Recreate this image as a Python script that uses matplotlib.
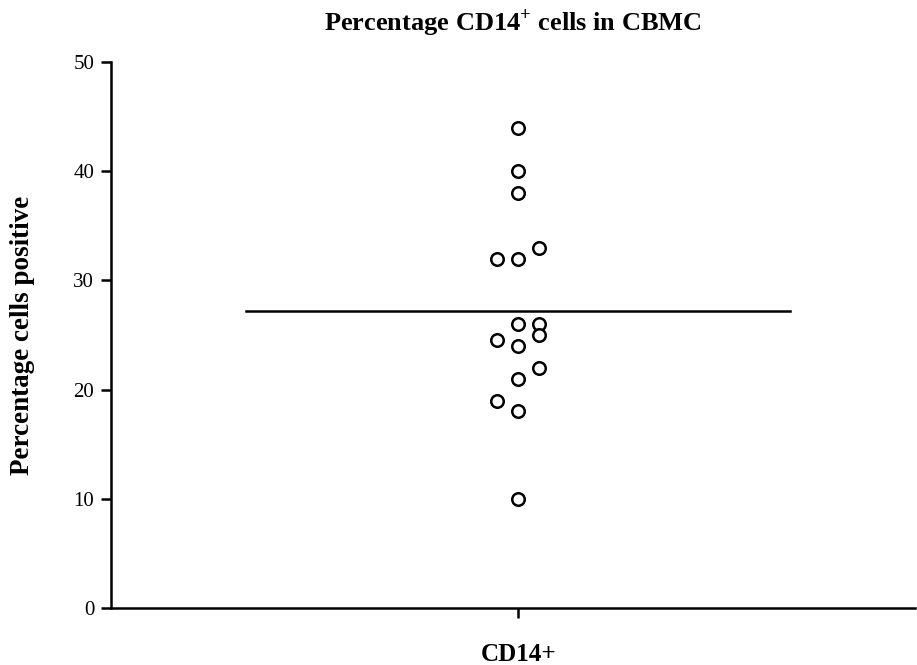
import matplotlib
matplotlib.use("Agg")
import numpy as np
import matplotlib.pyplot as plt

# -------------------------------------------------
# Data
# -------------------------------------------------
group = "CD14+"
values = [44, 40, 38, 33, 32, 32, 26, 26, 25, 24.5, 24, 22, 21, 19, 18, 10]
# scatter column for each point (-1 left, 0 centre, 1 right)
column = [0, 0, 0, 1, -1, 0, 0, 1, 1, -1, 0, 1, 0, -1, 0, 0]
y_ticks = [0, 10, 20, 30, 40, 50]

plt.rcParams["font.family"] = ["Liberation Serif", "DejaVu Serif"]
plt.rcParams["mathtext.fontset"] = "custom"
plt.rcParams["mathtext.rm"] = "Liberation Serif"
plt.rcParams["mathtext.bf"] = "Liberation Serif:bold"

fig = plt.figure(figsize=(9.17, 6.65), dpi=100)
ax = fig.add_axes([0.121, 0.0857, 0.877, 0.8211])

x = 0 + 0.052 * np.array(column)
ax.plot(x, values, linestyle="none", marker="o", markersize=9,
        markerfacecolor="white", markeredgecolor="black", markeredgewidth=1.8)

mean = np.mean(values)
ax.plot([-0.68, 0.68], [mean, mean], color="black", linewidth=1.8)

ax.set_xlim(-1.0175, 0.9925)
ax.set_ylim(0, 50)
ax.set_yticks(y_ticks)
ax.set_xticks([0])
ax.set_xticklabels([group], fontsize=18, fontweight="bold")
ax.tick_params(axis="y", labelsize=15, length=7, width=1.8, pad=5)
ax.tick_params(axis="x", length=7, width=1.8, pad=18)

for side in ["top", "right"]:
    ax.spines[side].set_visible(False)
for side in ["left", "bottom"]:
    ax.spines[side].set_linewidth(1.8)

ax.set_ylabel("Percentage cells positive", fontsize=19.5, fontweight="bold", labelpad=28)
ax.set_title("Percentage CD14$^{\\mathbf{+}}$ cells in CBMC", fontsize=19, fontweight="bold", pad=23)

fig.savefig("out.png", dpi=100)
